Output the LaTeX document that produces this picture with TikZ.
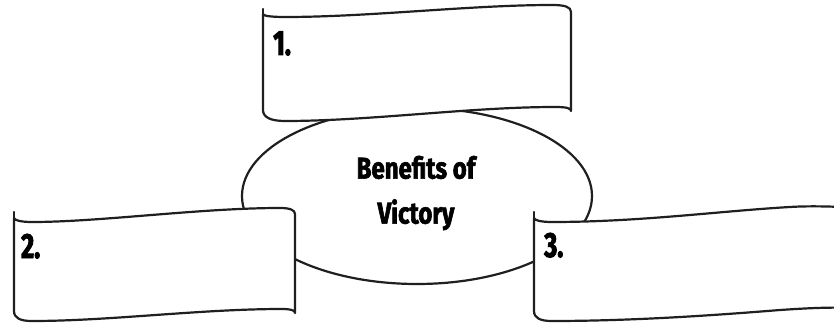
\documentclass[tikz,border=0pt]{standalone}
\usepackage{fontspec}
\setmainfont{Fira Sans}
\newfontfamily\titlefont[FakeStretch=0.8,FakeBold=2]{Fira Sans}
\newfontfamily\numfont[FakeStretch=0.72,FakeBold=2.5]{Fira Sans}
\usetikzlibrary{shapes.geometric}
\begin{document}
\begin{tikzpicture}[x=1pt,y=-1pt,
  edge/.style={line width=2.2pt, line join=round, line cap=round, draw=black!88},
  ribbon/.style={edge, fill=white},
  titletext/.style={font=\titlefont\bfseries\fontsize{30}{45}\selectfont, align=center, inner sep=0pt},
  numlabel/.style={font=\numfont\bfseries\fontsize{35}{35}\selectfont, anchor=base west, inner sep=0pt}]
\clip (0,0) rectangle (834,323);
% central ellipse
\node (hub) [edge, ellipse, minimum width=350pt, minimum height=176pt, inner sep=0pt] at (417,196) {};
\node (title) [titletext] at (416,193) {Benefits of\\Victory};
% ribbon 1 (top)
\draw[ribbon] (263,14) -- (263,110) .. controls (263,117) and (270,121) .. (285,121)
  .. controls (370,121) and (470,107) .. (555,107) .. controls (566,107) and (571,108) .. (571,111)
  -- (571,12) .. controls (571,7) and (565,5) .. (552,5)
  .. controls (470,5) and (370,17) .. (285,17) .. controls (272,17) and (263,16) .. (263,14) -- cycle;
\draw[edge] (263,14) -- (263,9);
% ribbon 2 (left)
\draw[ribbon] (14,218) -- (14,311) .. controls (14,318) and (20,321) .. (32,321)
  .. controls (110,321) and (200,309) .. (282,309) .. controls (290,309) and (295,310) .. (295,313)
  -- (295,214) .. controls (295,210) and (290,208) .. (280,208)
  .. controls (200,208) and (100,222) .. (32,222) .. controls (20,222) and (14,220) .. (14,218) -- cycle;
\draw[edge] (14,218) -- (14,212);
% ribbon 3 (right)
\draw[ribbon] (534,218) -- (534,311) .. controls (534,318) and (540,321) .. (552,321)
  .. controls (640,321) and (730,314) .. (780,310) .. controls (810,308) and (830,307) .. (860,308)
  -- (860,208) .. controls (830,206) and (805,206) .. (790,207)
  .. controls (720,211) and (640,222) .. (552,222) .. controls (540,222) and (534,220) .. (534,218) -- cycle;
\draw[edge] (534,218) -- (534,212);
% labels
\node (n1) [numlabel] at (273,55) {1.};
\node (n2) [numlabel] at (21,258) {2.};
\node (n3) [numlabel] at (544,257) {3.};
\end{tikzpicture}
\end{document}
